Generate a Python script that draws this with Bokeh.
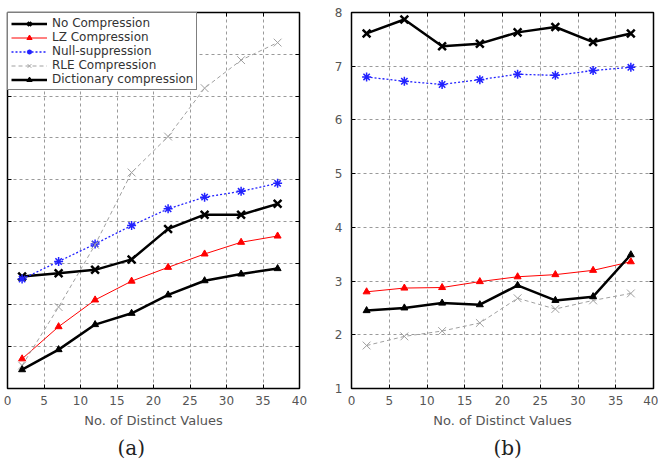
from bokeh.plotting import figure
from bokeh.layouts import row
from bokeh.models import (Legend, LegendItem, LinearAxis, Title, FixedTicker,
                          Range1d, ColumnDataSource)
from bokeh.embed import file_html
from bokeh.resources import INLINE

# ---- data -------------------------------------------------------------
distinct_values = [2, 7, 12, 17, 22, 27, 32, 37]
x_ticks = [0, 5, 10, 15, 20, 25, 30, 35, 40]

series_names = ["No Compression", "LZ Compression", "Null-suppression",
                "RLE Compression", "Dictionary compression"]

# panel (a)
a_no_compression = [2.68, 2.76, 2.84, 3.09, 3.82, 4.16, 4.16, 4.42]
a_lz = [0.71, 1.48, 2.12, 2.57, 2.90, 3.22, 3.50, 3.65]
a_null_suppression = [2.62, 3.04, 3.46, 3.90, 4.30, 4.58, 4.72, 4.91]
a_rle = [0.55, 1.95, 3.44, 5.17, 6.03, 7.19, 7.86, 8.28]
a_dictionary = [0.45, 0.93, 1.53, 1.80, 2.24, 2.58, 2.74, 2.87]
a_y_ticks = [0, 1, 2, 3, 4, 5, 6, 7, 8, 9]

# panel (b)
b_no_compression = [7.61, 7.87, 7.37, 7.42, 7.63, 7.73, 7.45, 7.61]
b_lz = [2.80, 2.87, 2.88, 2.99, 3.08, 3.12, 3.20, 3.36]
b_null_suppression = [6.80, 6.72, 6.66, 6.75, 6.85, 6.83, 6.92, 6.98]
b_rle = [1.80, 1.97, 2.07, 2.22, 2.68, 2.48, 2.64, 2.77]
b_dictionary = [2.45, 2.50, 2.59, 2.56, 2.92, 2.64, 2.71, 3.49]
b_y_ticks = [1, 2, 3, 4, 5, 6, 7, 8]

# ---- styles -----------------------------------------------------------
STYLES = [
    dict(color="black", width=2.5, dash="solid", marker="x", size=11, mwidth=2.5),
    dict(color="#ff0000", width=1.0, dash="solid", marker="triangle", size=7, mwidth=1),
    dict(color="#2222ff", width=1.3, dash="2 2", marker="asterisk", size=9, mwidth=1.5),
    dict(color="#a0a0a0", width=1.0, dash="4 3", marker="x", size=11, mwidth=1.0),
    dict(color="black", width=2.5, dash="solid", marker="triangle", size=7, mwidth=1),
]

FONT = "DejaVu Sans"
TICK_COLOR = "#555555"


def blank_labels(ticks):
    return {t: "" for t in ticks}


def make_panel(values, y_lo, y_hi, y_ticks, width, border_left, border_right,
               show_y_labels, caption, caption_offset, with_legend):
    p = figure(width=width, height=465,
               x_range=Range1d(0, 40), y_range=Range1d(y_lo, y_hi),
               output_backend="svg", toolbar_location=None,
               min_border_left=border_left, min_border_right=border_right,
               min_border_top=12, min_border_bottom=77,
               background_fill_color="white", border_fill_color="white")
    p.outline_line_color = "black"
    p.outline_line_width = 1.5

    xt = FixedTicker(ticks=x_ticks)
    yt = FixedTicker(ticks=y_ticks)

    # bottom / left axes
    p.xaxis.ticker = xt
    p.yaxis.ticker = yt
    for ax in (p.xaxis[0], p.yaxis[0]):
        ax.axis_line_color = None
        ax.major_tick_in = 4
        ax.major_tick_out = 0
        ax.major_tick_line_color = "black"
        ax.minor_tick_line_color = None
        ax.major_label_text_font = FONT
        ax.major_label_text_font_size = "12px"
        ax.major_label_text_color = TICK_COLOR
    p.xaxis.major_label_standoff = 7
    p.xaxis.axis_label = "No. of Distinct Values"
    p.xaxis.axis_label_text_font = FONT
    p.xaxis.axis_label_text_font_size = "13px"
    p.xaxis.axis_label_text_font_style = "normal"
    p.xaxis.axis_label_text_color = TICK_COLOR
    p.xaxis.axis_label_standoff = 5
    if show_y_labels:
        p.yaxis.major_label_standoff = 9
    else:
        p.yaxis.major_label_standoff = 0
        p.yaxis.major_label_overrides = blank_labels(y_ticks)

    # mirrored tick marks on the top and right edges
    for side, ticker, ticks in (("above", xt, x_ticks), ("right", yt, y_ticks)):
        ax = LinearAxis(ticker=ticker, axis_line_color=None,
                        major_tick_in=4, major_tick_out=0,
                        major_tick_line_color="black",
                        minor_tick_line_color=None,
                        major_label_overrides=blank_labels(ticks),
                        major_label_standoff=0)
        p.add_layout(ax, side)

    p.xgrid.ticker = xt
    p.ygrid.ticker = yt
    for g in (p.xgrid[0], p.ygrid[0]):
        g.grid_line_color = "#9a9a9a"
        g.grid_line_dash = "3 3"
        g.grid_line_width = 1

    items = []
    for name, ys, st in zip(series_names, values, STYLES):
        src = ColumnDataSource(dict(x=distinct_values, y=ys))
        ln = p.line("x", "y", source=src, line_color=st["color"],
                    line_width=st["width"], line_dash=st["dash"])
        pts = p.scatter("x", "y", source=src, marker=st["marker"],
                        size=st["size"], line_color=st["color"],
                        fill_color=st["color"], line_width=st["mwidth"])
        items.append(LegendItem(label=name, renderers=[ln, pts]))

    if with_legend:
        legend = Legend(items=items, location="top_left", margin=0,
                        padding=3, spacing=0,
                        label_text_font=FONT, label_text_font_size="12px",
                        label_text_color="#333333",
                        label_height=13, glyph_height=13, glyph_width=36,
                        label_standoff=5,
                        border_line_color="black", border_line_width=1,
                        background_fill_color="white", background_fill_alpha=1)
        p.add_layout(legend)

    p.add_layout(Title(text=caption, align="left", offset=caption_offset,
                       text_font="DejaVu Serif", text_font_size="20px",
                       text_font_style="normal", text_color="#222222",
                       standoff=6), "below")
    return p


pa = make_panel([a_no_compression, a_lz, a_null_suppression, a_rle, a_dictionary],
                0, 9, a_y_ticks, 330, 7, 31, False, "(a)", 110, True)
pb = make_panel([b_no_compression, b_lz, b_null_suppression, b_rle, b_dictionary],
                1, 8, b_y_ticks, 328, 21, 5, True, "(b)", 142, False)

layout = row(pa, pb)
open("out.html", "w").write(file_html(layout, INLINE))
